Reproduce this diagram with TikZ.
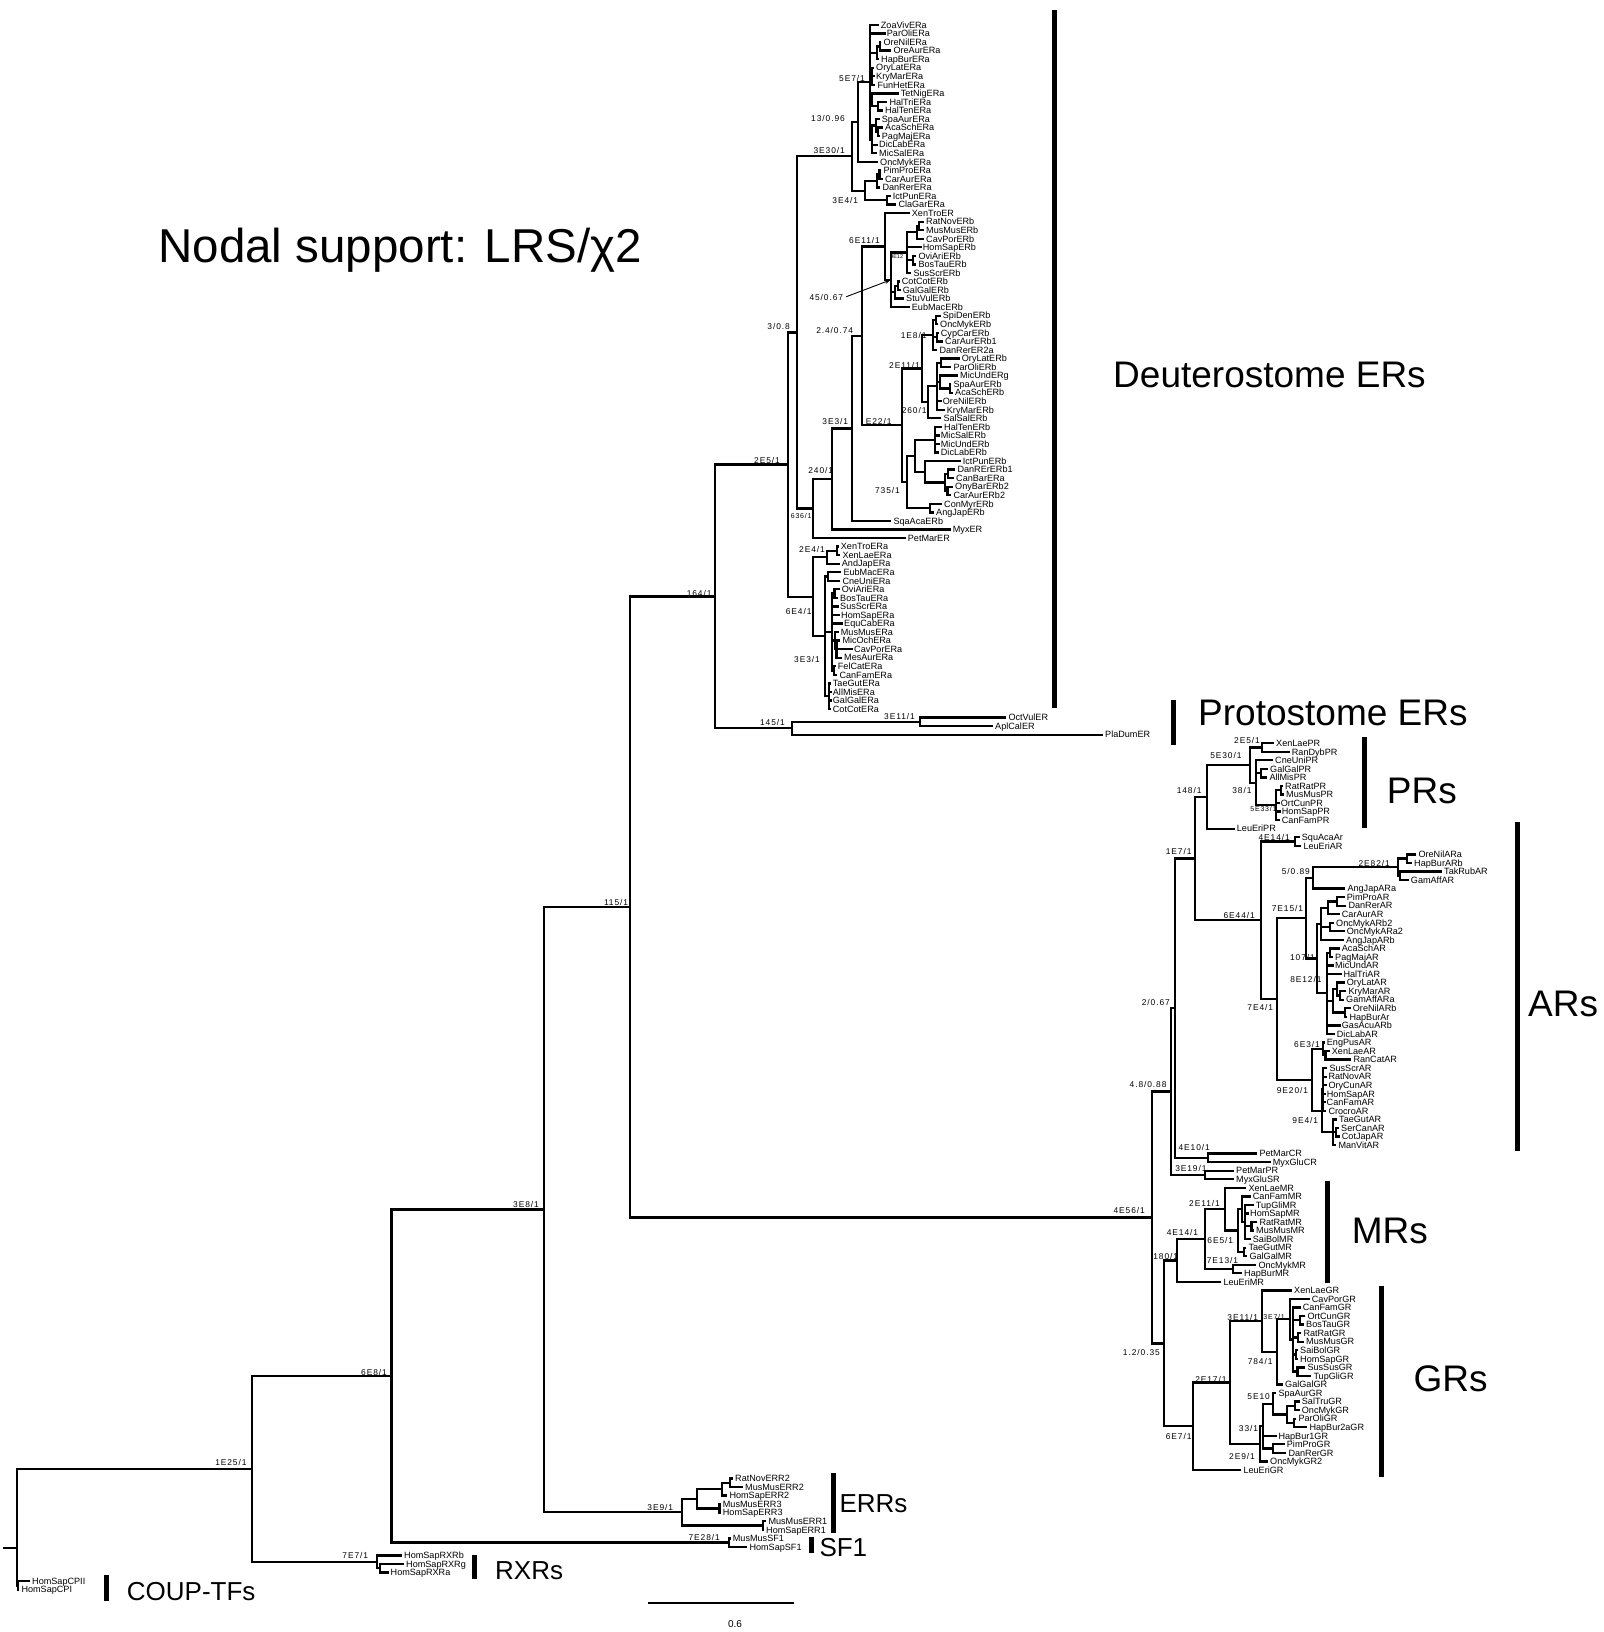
\documentclass[tikz,border=0pt]{standalone}
\usepackage{fontspec}
\setmainfont{Liberation Sans}
\newfontfamily\supf[LetterSpace=11]{Liberation Sans}
\usetikzlibrary{arrows.meta}
\newdimen\ndya \newdimen\ndyb
\newcommand\TRlf[3]{%
  \coordinate (L#1) at (#2,{25+8.55*#1});
  \node[leaf] (T#1) at (#2+2,{25+8.55*#1}) {#3};}
\newcommand\TRnd[5]{%
  \pgfextracty{\ndya}{\pgfpointanchor{#3}{center}}%
  \pgfextracty{\ndyb}{\pgfpointanchor{#4}{center}}%
  \pgfmathsetmacro\ndym{-0.5*(\ndya+\ndyb)}%
  \coordinate (#1) at (#2,\ndym);
  \draw[br] (#3) -- (#1 |- #3) -- (#1 |- #4) -- (#4);
  \if\relax\detokenize{#5}\relax\else
  \foreach \ndc in {#5} {\draw[br,line cap=rect] (#1 |- \ndc) -- (\ndc);}\fi}
\tikzset{
  br/.style={line width=2.3pt,line join=miter},
  leaf/.style={anchor=west,inner sep=0pt,font=\fontsize{9.1}{9.1}\selectfont,text height=6.5pt,text depth=0pt},
  sup/.style={anchor=east,inner sep=0pt,font=\supf\fontsize{8.4}{8.4}\selectfont,text height=6pt,text depth=0pt},
  supsm/.style={sup,font=\supf\fontsize{7}{7}\selectfont,text height=5pt},
  suptiny/.style={sup,font=\fontsize{5.5}{5.5}\selectfont,text height=4pt},
  cbar/.style={line width=5pt},
  big/.style={anchor=base west,inner sep=0pt,font=\fontsize{37}{37}\selectfont},
  mid/.style={anchor=base west,inner sep=0pt,font=\fontsize{26}{26}\selectfont}
}
\begin{document}
\begin{tikzpicture}[x=1pt,y=-1pt]
\fill[white] (0,0) rectangle (1603,1632);
\useasboundingbox (0,0) rectangle (1603,1632);
% ---------------- ERa teleosts
\TRlf{0}{878.7}{ZoaVivERa}
\TRlf{1}{884.7}{ParOliERa}
\TRlf{2}{881.3}{OreNilERa}
\TRlf{3}{891.3}{OreAurERa}
\TRlf{4}{879}{HapBurERa}
\TRlf{5}{874}{OryLatERa}
\TRlf{6}{874}{KryMarERa}
\TRlf{7}{875.3}{FunHetERa}
\TRlf{8}{898.7}{TetNigERa}
\TRlf{9}{887.3}{HalTriERa}
\TRlf{10}{883}{HalTenERa}
\TRlf{11}{879.7}{SpaAurERa}
\TRlf{12}{883}{AcaSchERa}
\TRlf{13}{879.7}{PagMajERa}
\TRlf{14}{877}{DicLabERa}
\TRlf{15}{877}{MicSalERa}
\TRlf{16}{878}{OncMykERa}
\TRlf{17}{881.3}{PimProERa}
\TRlf{18}{883}{CarAurERa}
\TRlf{19}{880.3}{DanRerERa}
\TRlf{20}{890.7}{IctPunERa}
\TRlf{21}{896.3}{ClaGarERa}
\TRnd{c1a}{880.3}{L2}{L3}{}
\TRnd{c1}{877}{c1a}{L4}{}
\TRnd{c2}{872.3}{L5}{L7}{L6}
\TRnd{c3a}{878.3}{L9}{L10}{}
\TRnd{c3}{872.3}{L8}{c3a}{}
\TRnd{c4b}{878.3}{L12}{L13}{}
\TRnd{c4a}{876}{L11}{c4b}{}
\TRnd{c4}{871.7}{c4a}{L15}{L14}
\TRnd{n5E7}{870}{L0}{c4}{L1,c1,c2,c3}
\TRnd{n13}{858.3}{n5E7}{L16}{}
\TRnd{k1a}{879.5}{L17}{L18}{}
\TRnd{k1}{877.3}{k1a}{L19}{}
\TRnd{k2}{886.7}{L20}{L21}{}
\TRnd{n3E4}{865}{k1}{k2}{}
\TRnd{n3E30}{851.7}{n13}{n3E4}{}
% ---------------- ERb
\TRlf{22}{909.7}{XenTroER}
\TRlf{23}{924}{RatNovERb}
\TRlf{24}{924}{MusMusERb}
\TRlf{25}{924}{CavPorERb}
\TRlf{26}{920.7}{HomSapERb}
\TRlf{27}{916.3}{OviAriERb}
\TRlf{28}{916.3}{BosTauERb}
\TRlf{29}{911.3}{SusScrERb}
\TRlf{30}{899.7}{CotCotERb}
\TRlf{31}{900.7}{GalGalERb}
\TRlf{32}{904}{StuVulERb}
\TRlf{33}{909.7}{EubMacERb}
\TRnd{rm}{919.3}{L23}{L24}{}
\TRnd{rr}{916.7}{rm}{L25}{}
\TRnd{ob}{913.3}{L27}{L28}{}
\TRnd{mm}{906.7}{rr}{L29}{L26,ob}
\TRnd{cg}{897.7}{L30}{L31}{}
\TRnd{bb}{895}{cg}{L32}{}
\TRnd{aa}{890.7}{mm}{L33}{bb}
\TRnd{n6E11}{885}{L22}{aa}{}
\TRlf{34}{940.7}{SpiDenERb}
\TRlf{35}{938}{OncMykERb}
\TRlf{36}{938.7}{CypCarERb}
\TRlf{37}{943}{CarAurERb1}
\TRlf{38}{937.3}{DanRerER2a}
\TRnd{so}{936}{L34}{L35}{}
\TRnd{cc}{936.7}{L36}{L37}{}
\TRnd{n1E8}{933.3}{so}{L38}{cc}
\TRlf{39}{959.7}{OryLatERb}
\TRlf{40}{951.3}{ParOliERb}
\TRlf{41}{958}{MicUndERg}
\TRlf{42}{951.3}{SpaAurERb}
\TRlf{43}{953}{AcaSchERb}
\TRlf{44}{940.7}{OreNilERb}
\TRlf{45}{944.7}{KryMarERb}
\TRlf{46}{941.3}{SalSalERb}
\TRnd{op}{940.7}{L39}{L40}{}
\TRnd{sa}{950.3}{L42}{L43}{}
\TRnd{q1}{940.3}{L41}{sa}{}
\TRnd{pp}{937}{op}{L45}{q1,L44}
\TRnd{n260}{928.3}{pp}{L46}{}
\TRnd{n2E11}{921.7}{n1E8}{n260}{}
\TRlf{47}{942}{HalTenERb}
\TRlf{48}{938.7}{MicSalERb}
\TRlf{49}{938.7}{MicUndERb}
\TRlf{50}{938.7}{DicLabERb}
\TRlf{51}{960.7}{IctPunERb}
\TRlf{52}{955.3}{DanRErERb1}
\TRlf{53}{954}{CanBarERa}
\TRlf{54}{953}{OnyBarERb2}
\TRlf{55}{951.3}{CarAurERb2}
\TRlf{56}{942}{ConMyrERb}
\TRlf{57}{934}{AngJapERb}
\TRlf{58}{891.3}{SqaAcaERb}
\TRlf{59}{950.7}{MyxER}
\TRlf{60}{905.7}{PetMarER}
\TRnd{hh}{935}{L47}{L50}{L48,L49}
\TRnd{dc}{948}{L52}{L53}{}
\TRnd{oc}{947.5}{L54}{L55}{}
\TRnd{cyb}{945}{dc}{oc}{}
\TRnd{ii}{925}{L51}{cyb}{}
\TRnd{qq}{915}{hh}{ii}{}
\TRnd{ca}{930}{L56}{L57}{}
\TRnd{n735}{906.7}{qq}{ca}{}
\TRnd{nE22}{901.7}{n2E11}{n735}{}
\TRnd{n24}{861.7}{n6E11}{nE22}{}
\TRnd{n3E3}{851.7}{n24}{L58}{}
\TRnd{n240}{831.7}{n3E3}{L59}{}
\TRnd{n636}{812.7}{n240}{L60}{}
\TRnd{n308}{796.7}{n3E30}{n636}{}
% ---------------- tetrapod ERa
\TRlf{61}{838.7}{XenTroERa}
\TRlf{62}{840.3}{XenLaeERa}
\TRlf{63}{839.7}{AndJapERa}
\TRlf{64}{841.3}{EubMacERa}
\TRlf{65}{840.3}{CneUniERa}
\TRlf{66}{839.7}{OviAriERa}
\TRlf{67}{838}{BosTauERa}
\TRlf{68}{838}{SusScrERa}
\TRlf{69}{839}{HomSapERa}
\TRlf{70}{842}{EquCabERa}
\TRlf{71}{838.7}{MusMusERa}
\TRlf{72}{840.3}{MicOchERa}
\TRlf{73}{852}{CavPorERa}
\TRlf{74}{842}{MesAurERa}
\TRlf{75}{835.7}{FelCatERa}
\TRlf{76}{837.3}{CanFamERa}
\TRlf{77}{830.7}{TaeGutERa}
\TRlf{78}{830.7}{AllMisERa}
\TRlf{79}{830.7}{GalGalERa}
\TRlf{80}{830.7}{CotCotERa}
\TRnd{xen}{836.7}{L61}{L62}{}
\TRnd{n2E4}{826.7}{xen}{L63}{}
\TRnd{ec}{828.3}{L64}{L65}{}
\TRnd{obb}{834.5}{L66}{L67}{}
\TRnd{mr2}{836.5}{L72}{L74}{L73}
\TRnd{r3}{834.7}{L71}{mr2}{}
\TRnd{fc}{834}{L75}{L76}{}
\TRnd{mam}{832.3}{obb}{fc}{L68,L69,L70,r3}
\TRnd{bird}{829.3}{L77}{L80}{L78,L79}
\TRnd{n3E3b}{825}{ec}{bird}{mam}
\TRnd{n6E4}{813.3}{n2E4}{n3E3b}{}
\TRnd{n2E5}{788.3}{n308}{n6E4}{}
% ---------------- protostome
\TRlf{81}{1006.3}{OctVulER}
\TRlf{82}{993}{AplCalER}
\TRlf{83}{1103}{PlaDumER}
\TRnd{n3E11}{920}{L81}{L82}{}
\TRnd{n145}{791.7}{n3E11}{L83}{}
\TRnd{n164}{715}{n2E5}{n145}{}
% ---------------- PR
\TRlf{84}{1274}{XenLaePR}
\TRlf{85}{1289.7}{RanDybPR}
\TRlf{86}{1273}{CneUniPR}
\TRlf{87}{1268}{GalGalPR}
\TRlf{88}{1267.3}{AllMisPR}
\TRlf{89}{1283}{RatRatPR}
\TRlf{90}{1284}{MusMusPR}
\TRlf{91}{1278.7}{OrtCunPR}
\TRlf{92}{1279.7}{HomSapPR}
\TRlf{93}{1279.7}{CanFamPR}
\TRlf{94}{1234.7}{LeuEriPR}
\TRnd{p2E5}{1261.7}{L84}{L85}{}
\TRnd{pga}{1261}{L87}{L88}{}
\TRnd{prm}{1281}{L89}{L90}{}
\TRnd{p5E33}{1276}{prm}{L93}{L91,L92}
\TRnd{p38}{1256}{L86}{p5E33}{pga}
\TRnd{p5E30}{1250}{p2E5}{p38}{}
\TRnd{p148}{1206.7}{p5E30}{L94}{}
% ---------------- AR
\TRlf{95}{1299.7}{SquAcaAr}
\TRlf{96}{1301.3}{LeuEriAR}
\TRnd{a4E14}{1295}{L95}{L96}{}
\TRlf{97}{1416.3}{OreNilARa}
\TRlf{98}{1412}{HapBurARb}
\TRlf{99}{1442}{TakRubAR}
\TRlf{100}{1408.7}{GamAffAR}
\TRnd{aoh}{1406.7}{L97}{L98}{}
\TRnd{atg}{1400}{L99}{L100}{}
\TRnd{a2E82}{1398.3}{aoh}{atg}{}
\TRlf{101}{1345.3}{AngJapARa}
\TRnd{a589}{1313.3}{a2E82}{L101}{}
\TRlf{102}{1344.7}{PimProAR}
\TRlf{103}{1346.3}{DanRerAR}
\TRlf{104}{1339.7}{CarAurAR}
\TRlf{105}{1334}{OncMykARb2}
\TRlf{106}{1344.7}{OncMykARa2}
\TRlf{107}{1344}{AngJapARb}
\TRnd{apd}{1337}{L102}{L103}{}
\TRnd{acy}{1328}{apd}{L104}{}
\TRnd{aon}{1330}{L105}{L106}{}
\TRnd{ag1}{1321}{acy}{L107}{aon}
\TRlf{108}{1339.7}{AcaSchAR}
\TRlf{109}{1333}{PagMajAR}
\TRlf{110}{1333}{MicUndAR}
\TRlf{111}{1341.3}{HalTriAR}
\TRlf{112}{1344.7}{OryLatAR}
\TRlf{113}{1346.3}{KryMarAR}
\TRlf{114}{1344}{GamAffARa}
\TRlf{115}{1350.7}{OreNilARb}
\TRlf{116}{1347.3}{HapBurAr}
\TRlf{117}{1339.7}{GasAcuARb}
\TRlf{118}{1334.7}{DicLabAR}
\TRnd{aap}{1330}{L108}{L109}{}
\TRnd{akg}{1340}{L113}{L114}{}
\TRnd{aokg}{1336.7}{L112}{akg}{}
\TRnd{aohb}{1345}{L115}{L116}{}
\TRnd{abn}{1333}{aokg}{aohb}{}
\TRnd{a8E12}{1326.7}{aap}{L118}{L110,L111,abn,L117}
\TRnd{a107}{1316.7}{ag1}{a8E12}{}
\TRnd{a7E15}{1306}{a589}{a107}{}
\TRlf{119}{1324.7}{EngPusAR}
\TRlf{120}{1329.7}{XenLaeAR}
\TRlf{121}{1351.3}{RanCatAR}
\TRnd{axr}{1325.5}{L120}{L121}{}
\TRnd{a6E3}{1323.3}{L119}{axr}{}
\TRlf{122}{1327.3}{SusScrAR}
\TRlf{123}{1326.3}{RatNovAR}
\TRlf{124}{1326.3}{OryCunAR}
\TRlf{125}{1324.7}{HomSapAR}
\TRlf{126}{1324.5}{CanFamAR}
\TRlf{127}{1326.3}{CrocroAR}
\TRnd{am2}{1323.3}{L122}{L127}{L123,L124,L125,L126}
\TRlf{128}{1337}{TaeGutAR}
\TRlf{129}{1339}{SerCanAR}
\TRlf{130}{1339.7}{CotJapAR}
\TRlf{131}{1336.3}{ManVitAR}
\TRnd{asc}{1336}{L129}{L130}{}
\TRnd{ab2}{1333.3}{L128}{L131}{asc}
\TRnd{az}{1321.7}{am2}{ab2}{}
\TRnd{a9E20}{1311.7}{a6E3}{az}{}
\TRnd{a7E4}{1277.3}{a7E15}{a9E20}{}
\TRnd{a6E44}{1260.7}{a4E14}{a7E4}{}
\TRnd{a1E7}{1195}{p148}{a6E44}{}
\TRlf{132}{1257.3}{PetMarCR}
\TRlf{133}{1270.7}{MyxGluCR}
\TRnd{a4E10}{1208.3}{L132}{L133}{}
\TRnd{a267}{1175}{a1E7}{a4E10}{}
\TRlf{134}{1234}{PetMarPR}
\TRlf{135}{1234}{MyxGluSR}
\TRnd{a3E19}{1205}{L134}{L135}{}
\TRnd{a488}{1171}{a267}{a3E19}{}
% ---------------- MR
\TRlf{136}{1246.3}{XenLaeMR}
\TRlf{137}{1250.7}{CanFamMR}
\TRlf{138}{1253.7}{TupGliMR}
\TRlf{139}{1248}{HomSapMR}
\TRlf{140}{1257.3}{RatRatMR}
\TRlf{141}{1254}{MusMusMR}
\TRlf{142}{1250.7}{SaiBolMR}
\TRlf{143}{1246.3}{TaeGutMR}
\TRlf{144}{1247.3}{GalGalMR}
\TRlf{145}{1256.3}{OncMykMR}
\TRlf{146}{1242}{HapBurMR}
\TRlf{147}{1221.3}{LeuEriMR}
\TRnd{mrm}{1251.5}{L140}{L141}{}
\TRnd{mx}{1245}{L138}{L142}{L139,mrm}
\TRnd{mmm}{1242}{L137}{mx}{}
\TRnd{mbb}{1244.3}{L143}{L144}{}
\TRnd{m6E5}{1238.3}{mmm}{mbb}{}
\TRnd{m2E11}{1225}{L136}{m6E5}{}
\TRnd{m7E13}{1232.7}{L145}{L146}{}
\TRnd{m4E14}{1205}{m2E11}{m7E13}{}
\TRnd{m180}{1177.3}{m4E14}{L147}{}
% ---------------- GR
\TRlf{148}{1292}{XenLaeGR}
\TRlf{149}{1309.7}{CavPorGR}
\TRlf{150}{1300.7}{CanFamGR}
\TRlf{151}{1305.3}{OrtCunGR}
\TRlf{152}{1304}{BosTauGR}
\TRlf{153}{1301.3}{RatRatGR}
\TRlf{154}{1304}{MusMusGR}
\TRlf{155}{1298}{SaiBolGR}
\TRlf{156}{1298}{HomSapGR}
\TRlf{157}{1305.3}{SusSusGR}
\TRlf{158}{1311.3}{TupGliGR}
\TRlf{159}{1283}{GalGalGR}
\TRlf{160}{1276.3}{SpaAurGR}
\TRlf{161}{1299.7}{SalTruGR}
\TRlf{162}{1299.7}{OncMykGR}
\TRlf{163}{1296.3}{ParOliGR}
\TRlf{164}{1307.3}{HapBur2aGR}
\TRlf{165}{1276.3}{HapBur1GR}
\TRlf{166}{1284.7}{PimProGR}
\TRlf{167}{1286.3}{DanRerGR}
\TRlf{168}{1268}{OncMykGR2}
\TRlf{169}{1241.3}{LeuEriGR}
\TRnd{gob}{1299.7}{L151}{L152}{}
\TRnd{grm}{1298}{L153}{L154}{}
\TRnd{gsh}{1295.7}{L155}{L156}{}
\TRnd{gst}{1297.5}{L157}{L158}{}
\TRnd{ge}{1292.7}{L150}{gst}{gob,grm,gsh}
\TRnd{g3E7}{1290}{L149}{ge}{}
\TRnd{g784}{1276.7}{g3E7}{L159}{}
\TRnd{g3E11}{1261.7}{L148}{g784}{}
\TRnd{gso}{1295}{L161}{L162}{}
\TRnd{gph}{1294}{L163}{L164}{}
\TRnd{gst2}{1286.7}{gso}{gph}{}
\TRnd{g5E10}{1272.7}{L160}{gst2}{}
\TRnd{gpd}{1272.7}{L166}{L167}{}
\TRnd{g33}{1263.3}{g5E10}{gpd}{L165}
\TRnd{g2E9}{1260}{g33}{L168}{}
\TRnd{g2E17}{1230}{g3E11}{g2E9}{}
\TRnd{g6E7}{1193.3}{g2E17}{L169}{}
\TRnd{g12}{1164}{m180}{g6E7}{}
\TRnd{s4E56}{1151.7}{a488}{g12}{}
\TRnd{n115}{630}{n164}{s4E56}{}
% ---------------- ERR, SF1
\TRlf{170}{733}{RatNovERR2}
\TRlf{171}{743}{MusMusERR2}
\TRlf{172}{727.3}{HomSapERR2}
\TRlf{173}{720.7}{MusMusERR3}
\TRlf{174}{720.7}{HomSapERR3}
\TRlf{175}{766.3}{MusMusERR1}
\TRlf{176}{764}{HomSapERR1}
\TRlf{177}{730.7}{MusMusSF1}
\TRlf{178}{747.3}{HomSapSF1}
\TRnd{erm}{730}{L170}{L171}{}
\TRnd{err2}{721.7}{erm}{L172}{}
\TRnd{err3}{719.5}{L173}{L174}{}
\TRnd{err23}{697.3}{err2}{err3}{}
\TRnd{err1}{763.3}{L175}{L176}{}
\TRnd{err}{681.7}{err23}{err1}{}
\TRnd{n3E8}{544}{n115}{err}{}
\TRnd{sf1}{729.3}{L177}{L178}{}
\TRnd{n6E8}{391.4}{n3E8}{sf1}{}
% ---------------- RXR
\TRlf{179}{402}{HomSapRXRb}
\TRlf{180}{404}{HomSapRXRg}
\TRlf{181}{388.5}{HomSapRXRa}
\TRnd{rga}{380}{L180}{L181}{}
\TRnd{rxr}{376.7}{L179}{rga}{}
\TRnd{n1E25}{252.3}{n6E8}{rxr}{}
% ---------------- COUP and root
\TRlf{182}{30}{HomSapCPII}
\TRlf{183}{19.3}{HomSapCPI}
\TRnd{coup}{18.3}{L182}{L183}{}
\TRnd{root}{17.3}{n1E25}{coup}{}
\coordinate (rootstub) at (3.3,1547.7);
\draw[br] (rootstub) -- (root |- rootstub);
% ---------------- support values
\node[sup] (s1) at (865,79) {5E7/1};
\node[sup] (s2) at (845,118.3) {13/0.96};
\node[sup] (s3) at (845,150.7) {3E30/1};
\node[sup] (s4) at (858.3,200.7) {3E4/1};
\node[sup] (s5) at (880,240) {6E11/1};
\node[suptiny] (s6) at (903.3,256.7) {9E12};
\node[sup] (s7) at (843.3,297.7) {45/0.67};
\draw[line width=0.9pt,-{Stealth[length=6pt,width=4pt]}] (s7.east) ++(3,-1) -- (aa);
\node[sup] (s8) at (790,326.7) {3/0.8};
\node[sup] (s9) at (853.3,330) {2.4/0.74};
\node[sup] (s10) at (926.7,335) {1E8/1};
\node[sup] (s11) at (920,365) {2E11/1};
\node[sup] (s12) at (926.7,410) {260/1};
\node[sup] (s13) at (848.3,421.7) {3E3/1};
\node[sup] (s14) at (891.7,421.7) {E22/1};
\node[sup] (s15) at (833.3,470.7) {240/1};
\node[sup] (s16) at (900,490.7) {735/1};
\node[supsm] (s17) at (811.7,515.7) {636/1};
\node[sup] (s18) at (780,460) {2E5/1};
\node[sup] (s19) at (825,549.3) {2E4/1};
\node[sup] (s20) at (811.7,611.7) {6E4/1};
\node[sup] (s21) at (820,659) {3E3/1};
\node[sup] (s22) at (785,722.7) {145/1};
\node[sup] (s23) at (915,716.7) {3E11/1};
\node[sup] (s24) at (711.7,593.3) {164/1};
\node[sup] (s25) at (628.3,902.7) {115/1};
\node[sup] (s26) at (539,1204.5) {3E8/1};
\node[sup] (s27) at (387,1372) {6E8/1};
\node[sup] (s28) at (246.7,1462.7) {1E25/1};
\node[sup] (s29) at (368.3,1555.7) {7E7/1};
\node[sup] (s30) at (673.3,1507.3) {3E9/1};
\node[sup] (s31) at (720,1537.3) {7E28/1};
\node[sup] (s32) at (1145,1210.7) {4E56/1};
\node[sup] (s33) at (1166.7,1084.3) {4.8/0.88};
\node[sup] (s34) at (1170,1002.7) {2/0.67};
\node[sup] (s35) at (1210,1147.3) {4E10/1};
\node[sup] (s36) at (1206.7,1168.3) {3E19/1};
\node[sup] (s37) at (1191.7,851.7) {1E7/1};
\node[sup] (s38) at (1201.7,790) {148/1};
\node[sup] (s39) at (1241.7,755.7) {5E30/1};
\node[sup] (s40) at (1260,740.7) {2E5/1};
\node[sup] (s41) at (1251.7,790.7) {38/1};
\node[supsm] (s42) at (1276.7,809.3) {5E33/1};
\node[sup] (s43) at (1290,837.3) {4E14/1};
\node[sup] (s44) at (1390,863.3) {2E82/1};
\node[sup] (s45) at (1310,871.7) {5/0.89};
\node[sup] (s46) at (1255,915) {6E44/1};
\node[sup] (s47) at (1303.3,908.3) {7E15/1};
\node[sup] (s48) at (1315,957.3) {107/1};
\node[sup] (s49) at (1321.7,979) {8E12/1};
\node[sup] (s50) at (1273.3,1007.3) {7E4/1};
\node[sup] (s51) at (1320,1044) {6E3/1};
\node[sup] (s52) at (1308.3,1090) {9E20/1};
\node[sup] (s53) at (1318.3,1120) {9E4/1};
\node[sup] (s54) at (1220,1203.3) {2E11/1};
\node[sup] (s55) at (1198.3,1232.7) {4E14/1};
\node[sup] (s56) at (1233.3,1240) {6E5/1};
\node[sup] (s57) at (1178.3,1256.7) {180/1};
\node[sup] (s58) at (1238.3,1260) {7E13/1};
\node[sup] (s59) at (1258.3,1317.3) {3E11/1};
\node[supsm] (s60) at (1285,1317.3) {3E7/1};
\node[sup] (s61) at (1272.7,1361) {784/1};
\node[sup] (s62) at (1160,1352.7) {1.2/0.35};
\node[sup] (s63) at (1226.7,1379.3) {2E17/1};
\node[sup] (s64) at (1270,1396.7) {5E10};
\node[sup] (s65) at (1258.3,1428.3) {33/1};
\node[sup] (s66) at (1191.7,1436.7) {6E7/1};
\node[sup] (s67) at (1255,1456.7) {2E9/1};
% ---------------- clade bars and names
\draw[cbar] (1054.5,10.4) -- (1054.5,708);
\node[big] (gDeu) at (1113,387) {Deuterostome ERs};
\draw[cbar] (1173.2,699.5) -- (1173.2,745.4);
\node[big] (gPro) at (1198,725) {Protostome ERs};
\draw[cbar] (1364,737) -- (1364,828);
\node[big] (gPR) at (1386.7,803.3) {PRs};
\draw[cbar] (1517.8,822.4) -- (1517.8,1151.3);
\node[big] (gAR) at (1528,1016) {ARs};
\draw[cbar] (1327.3,1180.7) -- (1327.3,1283.3);
\node[big] (gMR) at (1351.7,1243.3) {MRs};
\draw[cbar] (1381,1285.7) -- (1381,1476.7);
\node[big] (gGR) at (1413.3,1391.7) {GRs};
\draw[cbar] (833.3,1473.3) -- (833.3,1533.3);
\node[mid] (gERR) at (839.3,1512) {ERRs};
\draw[cbar] (811.7,1536.7) -- (811.7,1553.3);
\node[mid] (gSF) at (819.3,1556) {SF1};
\draw[cbar] (474,1555) -- (474,1579.3);
\node[mid] (gRXR) at (495,1579.3) {RXRs};
\draw[cbar] (106,1575) -- (106,1600.7);
\node[mid] (gCOUP) at (126.7,1600.7) {COUP-TFs};
% ---------------- scale bar and title
\coordinate (sb1) at (648.3,1603.3);
\coordinate (sb2) at (794.3,1603.3);
\draw[line width=2pt] (sb1) -- (sb2);
\node[anchor=base,inner sep=0pt,font=\fontsize{10}{10}\selectfont] (sbl) at (735,1627) {0.6};
\node[anchor=base west,inner sep=0pt,font=\fontsize{47.5}{47.5}\selectfont] (title) at (158.2,262.3) {Nodal support: LRS/χ2};
\end{tikzpicture}
\end{document}
